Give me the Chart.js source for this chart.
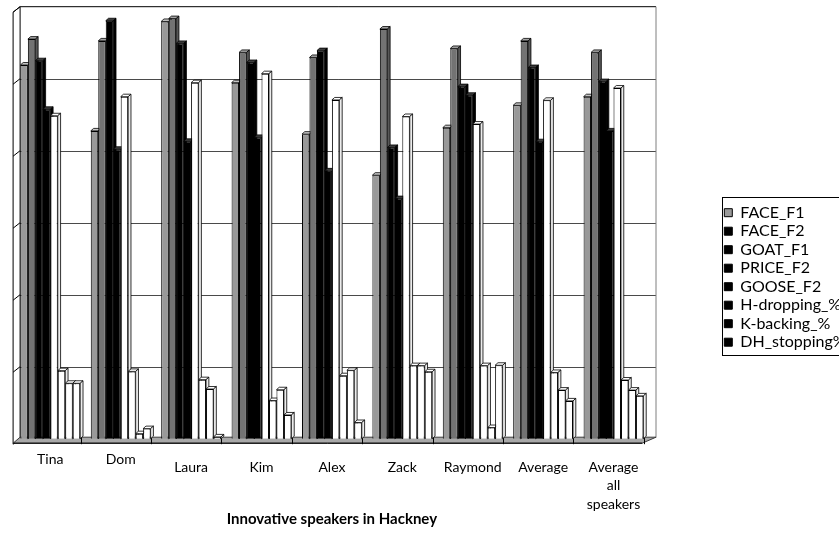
<!DOCTYPE html>
<html>
<head>
<meta charset="utf-8">
<title>Innovative speakers in Hackney</title>
<script src="https://cdn.jsdelivr.net/npm/chart.js@4.4.1/dist/chart.umd.min.js"></script>
<style>
  html, body { margin: 0; padding: 0; background: #ffffff; overflow: hidden; }
  canvas { display: block; }
</style>
</head>
<body>
<canvas id="chart" width="839" height="535"></canvas>
<script>
// ---- data -------------------------------------------------------------
const speakers = ['Tina', 'Dom', 'Laura', 'Kim', 'Alex', 'Zack', 'Raymond', 'Average', ['Average', 'all', 'speakers']];
const seriesNames = ['FACE_F1', 'FACE_F2', 'GOAT_F1', 'PRICE_F2', 'GOOSE_F2', 'H-dropping_%', 'K-backing_%', 'DH_stopping%'];

const faceF1     = [103.8,  85.5, 115.9,  98.9,  84.6,  73.2,  86.4,  92.6,  95.0];
const faceF2     = [111.0, 110.5, 116.7, 107.3, 105.9, 113.8, 108.4, 110.5, 107.3];
const goatF1     = [105.0, 116.1, 109.8, 104.5, 107.8,  80.9,  97.8, 103.1,  99.2];
const priceF2    = [ 91.5,  80.4,  82.6,  83.7,  74.4,  66.7,  95.4,  82.5,  85.5];
const gooseF2    = [ 89.7,  95.0,  98.9, 101.4,  94.1,  89.5,  87.4,  94.0,  97.4];
const hDropping  = [ 18.9,  18.7,  16.4,  10.6,  17.5,  20.3,  20.3,  18.4,  16.3];
const kBacking   = [ 15.4,   1.4,  13.8,  13.6,  19.0,  20.3,   3.1,  13.5,  13.5];
const dhStopping = [ 15.4,   2.8,   0.5,   6.6,   4.5,  18.6,  20.4,  10.5,  11.9];

const valueTicks = [0, 20, 40, 60, 80, 100, 120];

// ---- styling ----------------------------------------------------------
const FONT = 'Lato';
const seriesFill   = ['#999999', '#737373', '#000000', '#000000', '#ffffff', '#ffffff', '#ffffff', '#ffffff'];
const seriesTop    = ['#c6c6c6', '#a3a3a3', '#3c3c3c', '#3c3c3c', '#ffffff', '#ffffff', '#ffffff', '#ffffff'];
const seriesSide   = ['#7c7c7c', '#575757', '#000000', '#000000', '#ececec', '#ececec', '#ececec', '#ececec'];
const legendSwatch = ['#999999', '#000000', '#000000', '#000000', '#000000', '#000000', '#000000', '#000000'];
const raisedSpeakers = ['Tina', 'Dom'];   // these two names sit a little higher under the floor
const BAR_DX = 2.8, BAR_DY = 2.5;         // extrusion of each column
const WALL_BACK_L = 5, WALL_BACK_R = 7.3; // back wall offsets from the plot area
const FLOOR_FRONT_L = -2, FLOOR_FRONT_R = -6.5, FLOOR_DROP = 5.5;

const series = [faceF1, faceF2, goatF1, priceF2, gooseF2, hDropping, kBacking, dhStopping];

// Back wall, floor, gridlines and the extruded columns
const stage3d = {
  id: 'stage3d',
  afterLayout(chart) {
    // pin the key box beside the plot
    const lg = chart.legend;
    const h = lg.height;
    lg.left = 721.8;
    lg.right = lg.left + 220;
    lg.top = 202.2;
    lg.bottom = lg.top + h;
  },
  beforeDatasetsDraw(chart) {
    const { ctx, chartArea: a, scales: { x, y } } = chart;
    const base = y.getPixelForValue(valueTicks[0]);
    const top = y.getPixelForValue(valueTicks[valueTicks.length - 1]);
    const wl = a.left + WALL_BACK_L, wr = a.right + WALL_BACK_R;
    const fl = a.left + FLOOR_FRONT_L, fr = a.right + FLOOR_FRONT_R;

    ctx.save();
    ctx.lineWidth = 1;

    // gridlines on the back wall
    ctx.strokeStyle = '#4a4a4a';
    valueTicks.slice(1, -1).forEach(v => {
      const py = Math.round(y.getPixelForValue(v)) + 0.5;
      ctx.beginPath(); ctx.moveTo(wl, py); ctx.lineTo(wr, py); ctx.stroke();
    });

    // wall frame
    ctx.strokeStyle = '#000000';
    ctx.beginPath();
    ctx.moveTo(fl, base + FLOOR_DROP);
    ctx.lineTo(fl, top + FLOOR_DROP);
    ctx.lineTo(wl, top);
    ctx.lineTo(wr, top);
    ctx.stroke();
    ctx.beginPath(); ctx.moveTo(wl, top); ctx.lineTo(wl, base); ctx.stroke();
    ctx.strokeStyle = '#7f7f7f';
    ctx.beginPath(); ctx.moveTo(wr, top); ctx.lineTo(wr, base - 1); ctx.stroke();

    // value ticks on the side wall
    ctx.strokeStyle = '#000000';
    valueTicks.forEach(v => {
      const py = y.getPixelForValue(v);
      ctx.beginPath(); ctx.moveTo(fl, py + FLOOR_DROP); ctx.lineTo(wl, py); ctx.stroke();
    });

    // floor
    ctx.beginPath();
    ctx.moveTo(wl, base - 1.5);
    ctx.lineTo(wr, base - 1.5);
    ctx.lineTo(fr, base + FLOOR_DROP - 1);
    ctx.lineTo(fl, base + FLOOR_DROP - 1);
    ctx.closePath();
    ctx.fillStyle = '#a8a8a8';
    ctx.fill();
    ctx.strokeStyle = '#3c3c3c';
    ctx.stroke();
    ctx.beginPath(); ctx.moveTo(fl, base + FLOOR_DROP - 1); ctx.lineTo(fr, base + FLOOR_DROP - 1); ctx.strokeStyle = '#000'; ctx.stroke();

    // category separators along the front edge of the floor
    const catW = (a.right - a.left) / speakers.length;
    for (let k = 0; k < speakers.length; k++) {
      const px = Math.round(x.getPixelForTick(k) + catW / 2 - 5) + 0.5;
      ctx.beginPath(); ctx.moveTo(px, base - 1.5); ctx.lineTo(px, base + FLOOR_DROP); ctx.stroke();
    }

    // columns, left to right, each with its top and right faces
    chart.data.datasets.forEach((ds, i) => {
      const meta = chart.getDatasetMeta(i);
      if (!meta.visible) return;
      meta.data.forEach(el => {
        el.draw(ctx);
        const p = el.getProps(['x', 'y', 'base', 'width'], true);
        const l = p.x - p.width / 2, r = p.x + p.width / 2;
        ctx.lineWidth = 0.8;
        ctx.strokeStyle = '#000000';
        ctx.beginPath();
        ctx.moveTo(l, p.y); ctx.lineTo(l + BAR_DX, p.y - BAR_DY);
        ctx.lineTo(r + BAR_DX, p.y - BAR_DY); ctx.lineTo(r, p.y); ctx.closePath();
        ctx.fillStyle = seriesTop[i]; ctx.fill(); ctx.stroke();
        ctx.beginPath();
        ctx.moveTo(r, p.y); ctx.lineTo(r + BAR_DX, p.y - BAR_DY);
        ctx.lineTo(r + BAR_DX, p.base - BAR_DY); ctx.lineTo(r, p.base); ctx.closePath();
        ctx.fillStyle = seriesSide[i]; ctx.fill(); ctx.stroke();
      });
    });
    ctx.restore();
    return false;
  },
  afterDraw(chart) {
    // frame around the key
    const { ctx } = chart;
    const lg = chart.legend;
    const boxes = lg.legendHitBoxes;
    if (!boxes || !boxes.length) return;
    const last = boxes[boxes.length - 1];
    const y0 = lg.top - 5;
    ctx.save();
    ctx.strokeStyle = '#000000';
    ctx.lineWidth = 1;
    ctx.strokeRect(Math.round(lg.left) + 0.5, Math.round(y0) + 0.5, 300, Math.round(last.top + last.height + 5 - y0));
    ctx.restore();
  }
};

new Chart(document.getElementById('chart'), {
  type: 'bar',
  data: {
    labels: speakers,
    datasets: seriesNames.map((name, i) => ({
      label: name,
      data: series[i],
      backgroundColor: seriesFill[i],
      borderColor: '#000000',
      borderWidth: 1,
      categoryPercentage: 0.85,
      barPercentage: 1.0
    }))
  },
  options: {
    responsive: false,
    animation: false,
    devicePixelRatio: 1,
    layout: { padding: { left: 15.1, top: 6.7, right: 90.3, bottom: 0 } },
    scales: {
      x: {
        grid: { display: false, drawTicks: true, tickLength: 19.05 },
        border: { display: false },
        ticks: {
          color: '#000000',
          autoSkip: false,
          maxRotation: 0,
          padding: 0,
          font: ctx => ({
            family: FONT,
            size: 14,
            lineHeight: raisedSpeakers.includes(speakers[ctx.index]) ? '3.7px' : '18.5px'
          })
        },
        title: {
          display: true,
          text: 'Innovative speakers in Hackney',
          color: '#000000',
          font: { family: FONT, size: 15, weight: 'bold', lineHeight: '12px' },
          padding: { top: 0, bottom: 9.75 }
        }
      },
      y: {
        display: false,
        min: valueTicks[0],
        max: valueTicks[valueTicks.length - 1],
        ticks: { stepSize: 20 }
      }
    },
    plugins: {
      tooltip: { enabled: false },
      legend: {
        position: 'right',
        align: 'start',
        maxWidth: 100,
        labels: {
          boxWidth: 8,
          boxHeight: 8,
          padding: 2.5,
          color: '#000000',
          font: { family: FONT, size: 16 },
          generateLabels: chart =>
            Chart.defaults.plugins.legend.labels.generateLabels(chart).map((item, i) => ({
              ...item,
              fillStyle: legendSwatch[i],
              strokeStyle: '#000000',
              lineWidth: 1
            }))
        }
      }
    }
  },
  plugins: [stage3d]
});
</script>
</body>
</html>
